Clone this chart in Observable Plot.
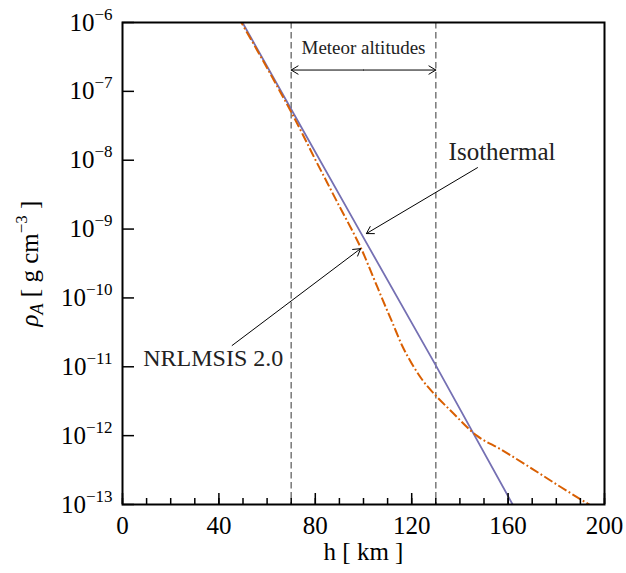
<!DOCTYPE html>
<html><head><meta charset="utf-8">
<script src="https://cdn.jsdelivr.net/npm/d3@7"></script>
<script src="https://cdn.jsdelivr.net/npm/@observablehq/plot@0.6"></script>
<style>html,body{margin:0;padding:0;background:#fff;}</style>
</head><body><div id="chart"></div>
<script>
// ---- data ----
const isoH   = [48.5, 70, 100, 130, 163];
const isoRho = [1.2e-6, 5.5e-8, 7.5e-10, 1.05e-11, 8.5e-14];

const msisH   = [48, 55, 60, 65, 70, 75, 80, 85, 90, 95, 99, 104, 108, 112, 116, 120, 124, 130, 136, 147, 157, 170, 182, 194];
const msisRho = [1.2e-6, 4.47e-7, 2.19e-7, 1.05e-7, 5.0e-8, 2.29e-8, 1.02e-8, 4.68e-9, 2.14e-9, 1.0e-9, 5.25e-10, 2.02e-10,
                 9.3e-11, 4.37e-11, 2.04e-11, 1.12e-11, 6.76e-12, 3.8e-12, 2.34e-12, 1.0e-12, 6.3e-13, 3.3e-13, 1.78e-13, 9.8e-14];

const meteorBounds = [70, 130];
const xMajorTicks = [0, 40, 80, 120, 160, 200];
const xMinorTicks = [0, 10, 20, 30, 40, 50, 60, 70, 80, 90, 100, 110, 120, 130, 140, 150, 160, 170, 180, 190, 200];
const yTicks = [1e-13, 1e-12, 1e-11, 1e-10, 1e-9, 1e-8, 1e-7, 1e-6];

const xLabel = "h [ km ]";
const yLabel = "*{ρ}~{A} [ g cm^{−3} ]";

// annotations (data coordinates)
const textLabels = ["Meteor altitudes", "Isothermal", "NRLMSIS 2.0"];
const textH      = [100, 135.3, 8.6];
const textRho    = [4.3e-7, 1.33e-8, 1.33e-11];
const textSize   = [19, 25, 24];
const textAnchor = ["middle", "start", "start"];

const arrowH1   = [100, 100, 147.3, 45.5];
const arrowRho1 = [2.04e-7, 2.04e-7, 7.8e-9, 2.04e-11];
const arrowH2   = [70, 130, 101.2, 98.8];
const arrowRho2 = [2.04e-7, 2.04e-7, 8.6e-10, 5.2e-10];

const iso  = isoH.map((h, i) => ({h, rho: isoRho[i]}));
const msis = msisH.map((h, i) => ({h, rho: msisRho[i]}));
const notes = textLabels.map((t, i) => ({t, h: textH[i], rho: textRho[i], size: textSize[i], anchor: textAnchor[i]}));
const arrows = arrowH1.map((h, i) => ({h1: h, r1: arrowRho1[i], h2: arrowH2[i], r2: arrowRho2[i]}));

const chart = Plot.plot({
  width: 626, height: 573,
  marginLeft: 122, marginRight: 22, marginTop: 22, marginBottom: 69,
  style: {fontFamily: "'Liberation Serif', serif", fontSize: "25px", color: "black", background: "white", overflow: "visible"},
  x: {domain: [0, 200]},
  y: {type: "log", domain: [1e-13, 1e-6]},
  marks: [
    Plot.ruleX(meteorBounds, {stroke: "#808080", strokeWidth: 1.6, strokeDasharray: "6.5,3.5"}),
    Plot.line(iso, {x: "h", y: "rho", stroke: "#7570b3", strokeWidth: 1.8, clip: true}),
    Plot.line(msis, {x: "h", y: "rho", stroke: "#d95f02", strokeWidth: 2, strokeLinecap: "butt",
      strokeDasharray: "9.6,2.6,1.8,2.6", clip: true, curve: "monotone-x"}),
    Plot.arrow(arrows, {x1: "h1", y1: "r1", x2: "h2", y2: "r2", stroke: "black", strokeWidth: 1, headLength: 12, headAngle: 62}),
    ...notes.map(n => Plot.text([n], {x: "h", y: "rho", text: "t", fontSize: n.size, textAnchor: n.anchor, fill: "#222"})),
    Plot.frame({stroke: "black", strokeWidth: 2}),
    Plot.axisX(xMinorTicks, {tickSize: -6, strokeWidth: 1.5, tickFormat: () => "", label: null}),
    Plot.axisX(xMajorTicks, {tickSize: -11, tickPadding: 23, strokeWidth: 1.5, fontSize: 25, tickFormat: d => String(d), label: null}),
    Plot.axisY(yTicks, {tickSize: -12, tickPadding: 22, strokeWidth: 1.5, fontSize: 25,
      tickFormat: d => "10^{" + String(Math.round(Math.log10(d))).replace("-", "−") + "}", label: null}),
    Plot.text([xLabel], {frameAnchor: "bottom", dy: 55, fontSize: 25, textAnchor: "middle", text: d => d}),
    Plot.text([yLabel], {frameAnchor: "left", dx: -93, rotate: -90, fontSize: 25, textAnchor: "middle", text: d => d})
  ]
});
document.getElementById("chart").appendChild(chart);

// turn ^{..} (superscript), _{..} (subscript), ~{..} (italic subscript), *{..} (italic) into tspans
function richify(root) {
  const NS = "http://www.w3.org/2000/svg";
  root.querySelectorAll("text").forEach(t => {
    if (t.querySelector("tspan")) return;
    const s = t.textContent;
    if (!/[_^*~]\{/.test(s)) return;
    const fs = parseFloat(getComputedStyle(t).fontSize) || 25;
    const re = /([_^*~])\{([^}]*)\}/g;
    const parts = []; let last = 0, m;
    while ((m = re.exec(s))) {
      if (m.index > last) parts.push(["", s.slice(last, m.index)]);
      parts.push([m[1], m[2]]);
      last = re.lastIndex;
    }
    if (last < s.length) parts.push(["", s.slice(last)]);
    t.textContent = "";
    let cur = 0;
    for (const [k, str] of parts) {
      const ts = document.createElementNS(NS, "tspan");
      let target = 0;
      if (k === "^") { target = -0.44 * fs; ts.setAttribute("font-size", (0.68 * fs) + "px"); }
      if (k === "_" || k === "~") { target = 0.22 * fs; ts.setAttribute("font-size", (0.72 * fs) + "px"); }
      if (k === "*" || k === "~") ts.setAttribute("font-style", "italic");
      if (target !== cur) ts.setAttribute("dy", target - cur);
      cur = target;
      ts.textContent = str;
      t.appendChild(ts);
    }
  });
}
richify(chart);
</script>
</body></html>
